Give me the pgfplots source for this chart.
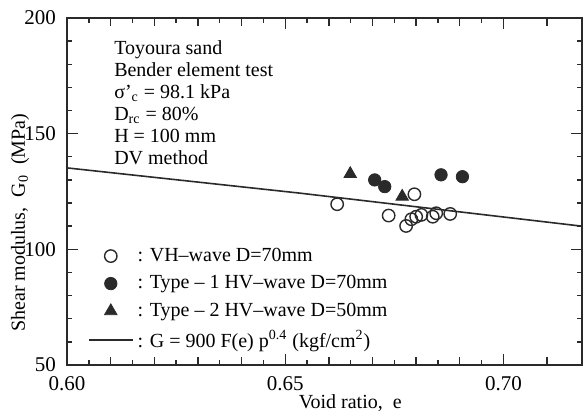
\documentclass[border=0pt]{standalone}
\usepackage{fontspec}
\setmainfont{Liberation Serif}
\usepackage{pgfplots}
\pgfplotsset{compat=1.18}
\usetikzlibrary{calc}

\definecolor{ink}{HTML}{2A2A2A}

\begin{document}
\begin{tikzpicture}
  \begin{axis}[
      scale only axis,
      width=257.5pt,
      height=173.5pt,
      xmin=0.60, xmax=0.718,
      ymin=50, ymax=200,
      xtick={0.60,0.65,0.70},
      xticklabels={0.60,0.65,0.70},
      ytick={50,100,150,200},
      minor x tick num=9,
      minor y tick num=4,
      extra x ticks={0.61,0.62,0.63,0.64,0.66,0.67,0.68,0.69,0.71},
      extra x tick labels={},
      extra x tick style={major tick length=4pt},
      tick align=inside,
      major tick length=5.5pt,
      minor tick length=2.5pt,
      axis line style={line width=0.9pt, ink},
      every tick/.style={ink, line width=0.7pt},
      /pgf/number format/assume math mode=true,
      tick label style={font=\fontsize{10.5}{12}\selectfont},
      yticklabel style={xshift=-2pt},
      xticklabel style={yshift=-2pt},
      xlabel={Void ratio,\ \ e},
      ylabel={Shear modulus,\ \ G\textsubscript{0}\ \ (MPa)},
      label style={font=\fontsize{10}{12}\selectfont},
      xlabel style={at={(rel axis cs:0.55,-0.11)}, anchor=center},
      ylabel style={at={(rel axis cs:-0.0913,0.41)}, anchor=center},
      legend style={draw=none, fill=none, at={(rel axis cs:0.04,0.35)},
        anchor=north west, font=\fontsize{10}{11}\selectfont,
        row sep=1.6pt, inner sep=0pt, cells={anchor=west}},
      legend image code/.code={\draw[mark repeat=2,mark phase=2,#1]
        plot coordinates {(0pt,0pt) (11pt,0pt) (22pt,0pt)};},
    ]
    % open circles: VH-wave D=70mm
    \addplot[only marks, mark=o, mark size=3.1pt, ink, line width=0.7pt] coordinates {
      (0.6619,119.5)
      (0.6796,123.8)
      (0.6737,114.6)
      (0.6777,110.1)
      (0.6789,113.0)
      (0.6800,114.1)
      (0.6812,114.9)
      (0.6838,114.1)
      (0.6846,115.6)
      (0.6878,115.3)
    };
    \addlegendentry{: VH--wave D=70mm}
    % filled circles: Type-1 HV-wave
    \addplot[only marks, mark=*, mark size=3.1pt, ink, fill=ink] coordinates {
      (0.6705,130.0)
      (0.6728,127.1)
      (0.6857,132.2)
      (0.6906,131.4)
    };
    \addlegendentry{: Type -- 1 HV--wave D=70mm}
    % triangles: Type-2 HV-wave
    \addplot[only marks, mark=triangle*, mark size=3.6pt, ink, fill=ink] coordinates {
      (0.6649,132.6)
      (0.6768,122.8)
    };
    \addlegendentry{: Type -- 2 HV--wave D=50mm}
    % empirical line
    \addplot[ink, line width=0.8pt] coordinates {
      (0.600,135.2)
      (0.6533,124.3)
      (0.718,110.0)
    };
    \addlegendentry{: G = 900 F(e) p\textsuperscript{0.4} (kgf/cm\textsuperscript{2})}

    \node[anchor=north west, align=left, inner sep=0pt,
      font=\fontsize{10}{11}\selectfont] at (rel axis cs:0.091,0.935)
      {Toyoura sand\\Bender element test\\ σ'\textsubscript{c} = 98.1 kPa\\
       D\textsubscript{rc} = 80\%\\H = 100 mm\\DV method};
  \end{axis}
  \pgfresetboundingbox
  \path ($(current axis.south west)+(-33.5pt,-25.5pt)$) rectangle
        ($(current axis.north east)+(1pt,9pt)$);
\end{tikzpicture}
\end{document}
